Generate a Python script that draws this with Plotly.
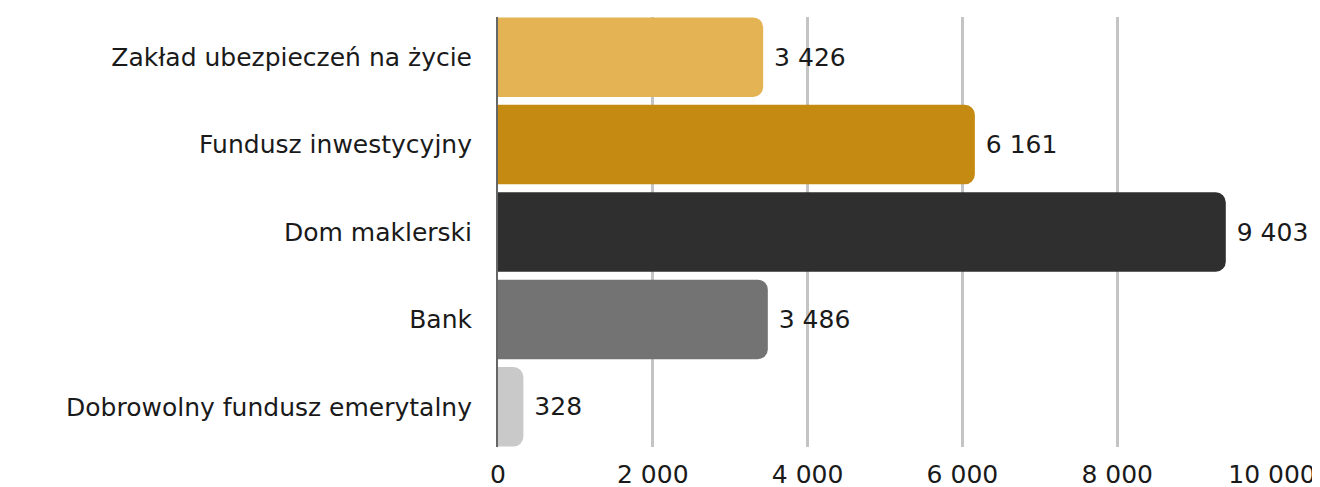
import plotly.graph_objects as go

categories = ["Zakład ubezpieczeń na życie", "Fundusz inwestycyjny", "Dom maklerski", "Bank",
              "Dobrowolny fundusz emerytalny"]
values = [3426, 6161, 9403, 3486, 328]
colors = ["#E3B354", "#C48A12", "#2F2F2F", "#737373", "#C9C9C9"]
x_ticks = [0, 2000, 4000, 6000, 8000, 10000]

FONT = "DejaVu Sans"
FS = 25

fig = go.Figure(go.Bar(
    y=categories, x=values, orientation="h",
    marker=dict(color=colors, cornerradius=10, line=dict(width=0)),
    texttemplate="\u00a0%{x:,d}", textposition="outside",
    textfont=dict(family=FONT, size=FS, color="#1a1a1a"),
    cliponaxis=False, width=0.91,
))

fig.update_layout(
    width=1320, height=487,
    margin=dict(l=490, r=56, t=9, b=48),
    plot_bgcolor="white", paper_bgcolor="white",
    separators=". ",
    showlegend=False,
    font=dict(family=FONT, size=FS, color="#1a1a1a"),
)
fig.update_xaxes(range=[0, 10000], tickvals=x_ticks, tickformat=",d", automargin=False,
                 showgrid=True, gridcolor="#C4C4C4", gridwidth=3,
                 zeroline=False, showline=False, ticks="", ticklabelstandoff=10,
                 tickfont=dict(family=FONT, size=FS, color="#1a1a1a"))
fig.update_yaxes(categoryorder="array", categoryarray=categories, range=[4.46, -0.46],
                 automargin=False,
                 showline=True, linecolor="#666666", linewidth=2,
                 ticks="", ticklabelstandoff=19,
                 tickfont=dict(family=FONT, size=FS, color="#1a1a1a"))

fig.write_html("out.html")
